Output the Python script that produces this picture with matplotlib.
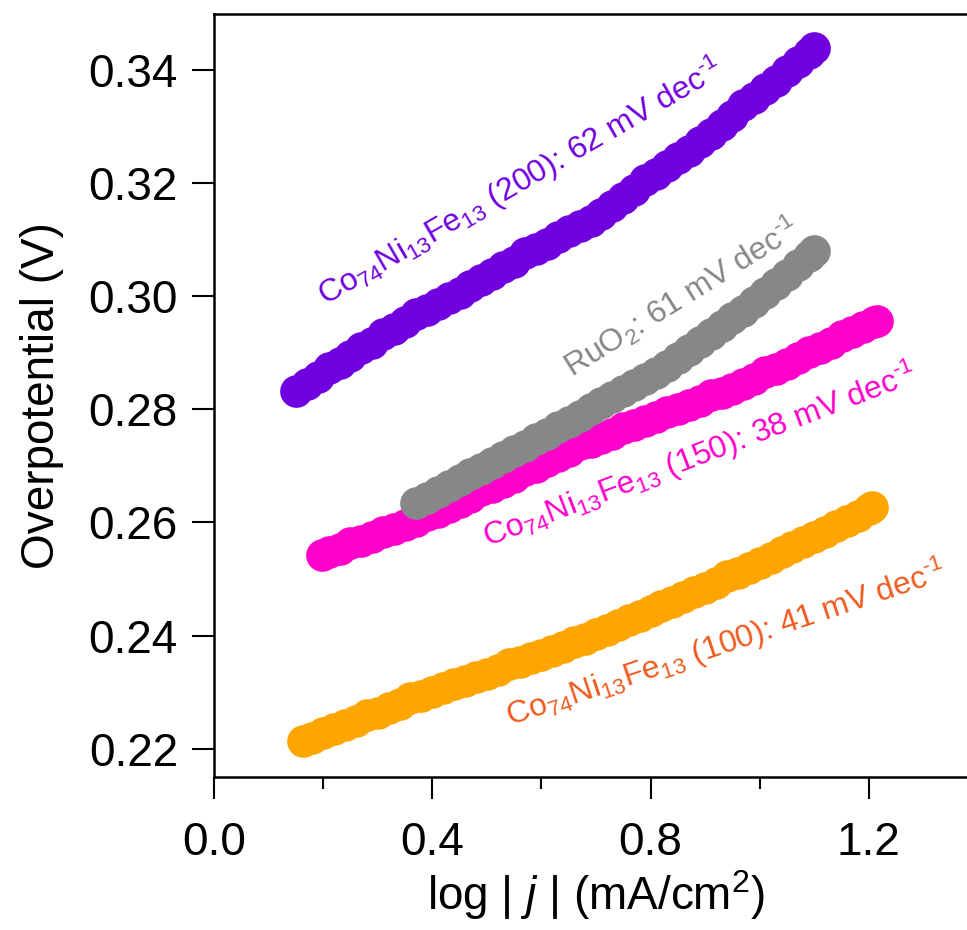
import numpy as np
import matplotlib
matplotlib.use('Agg')
import matplotlib.pyplot as plt
from matplotlib.ticker import MultipleLocator, FormatStrFormatter

plt.rcParams['font.family'] = ['Liberation Sans', 'DejaVu Sans']
plt.rcParams['mathtext.fontset'] = 'custom'
plt.rcParams['mathtext.rm'] = 'Liberation Sans'
plt.rcParams['mathtext.it'] = 'Liberation Sans:italic'

# Tafel data: log|j| (mA/cm2) vs overpotential (V)
x200 = [0.150, 0.17, 0.19, 0.21, 0.23, 0.25, 0.27, 0.29, 0.31, 0.33,
        0.35, 0.37, 0.39, 0.41, 0.43, 0.45, 0.47, 0.49, 0.51, 0.53,
        0.55, 0.57, 0.59, 0.61, 0.63, 0.65, 0.67, 0.69, 0.71, 0.73,
        0.75, 0.77, 0.79, 0.81, 0.83, 0.85, 0.87, 0.89, 0.91, 0.93,
        0.95, 0.97, 0.99, 1.01, 1.03, 1.05, 1.07, 1.09, 1.100]
y200 = [0.2832, 0.2845, 0.2857, 0.2873, 0.2882, 0.2895, 0.2908, 0.2917, 0.2933, 0.2943,
        0.2954, 0.2969, 0.2976, 0.2986, 0.2997, 0.3005, 0.3019, 0.3029, 0.3040, 0.3051,
        0.3061, 0.3076, 0.3083, 0.3093, 0.3104, 0.3115, 0.3125, 0.3133, 0.3146, 0.3160,
        0.3174, 0.3188, 0.3206, 0.3216, 0.3231, 0.3245, 0.3256, 0.3273, 0.3287, 0.3302,
        0.3318, 0.3339, 0.3351, 0.3367, 0.3380, 0.3399, 0.3415, 0.3431, 0.3439]

xruo2 = [0.371, 0.39, 0.41, 0.43, 0.45, 0.47, 0.49, 0.51, 0.53, 0.55,
         0.57, 0.59, 0.61, 0.63, 0.65, 0.67, 0.69, 0.71, 0.73, 0.75,
         0.77, 0.79, 0.81, 0.83, 0.85, 0.87, 0.89, 0.91, 0.93, 0.95,
         0.97, 0.99, 1.01, 1.03, 1.05, 1.07, 1.09, 1.100]
yruo2 = [0.2634, 0.2644, 0.2654, 0.2664, 0.2675, 0.2685, 0.2695, 0.2706, 0.2716, 0.2726,
         0.2736, 0.2747, 0.2757, 0.2768, 0.2778, 0.2789, 0.2800, 0.2811, 0.2822, 0.2832,
         0.2843, 0.2854, 0.2865, 0.2877, 0.2891, 0.2905, 0.2919, 0.2933, 0.2947, 0.2961,
         0.2974, 0.2989, 0.3005, 0.3022, 0.3038, 0.3055, 0.3072, 0.3080]

x150 = [0.197, 0.21, 0.23, 0.25, 0.27, 0.29, 0.31, 0.33, 0.35, 0.37,
        0.39, 0.41, 0.43, 0.45, 0.47, 0.49, 0.51, 0.53, 0.55, 0.57,
        0.59, 0.61, 0.63, 0.65, 0.67, 0.69, 0.71, 0.73, 0.75, 0.77,
        0.79, 0.81, 0.83, 0.85, 0.87, 0.89, 0.91, 0.93, 0.95, 0.97,
        0.99, 1.01, 1.03, 1.05, 1.07, 1.09, 1.11, 1.13, 1.15, 1.17,
        1.19, 1.21, 1.215]
y150 = [0.2542, 0.2547, 0.2554, 0.2563, 0.2568, 0.2575, 0.2584, 0.2589, 0.2596, 0.2603,
        0.2613, 0.2618, 0.2627, 0.2636, 0.2645, 0.2657, 0.2663, 0.2672, 0.2681, 0.2693,
        0.2699, 0.2708, 0.2717, 0.2726, 0.2738, 0.2743, 0.2750, 0.2757, 0.2767, 0.2772,
        0.2779, 0.2786, 0.2796, 0.2800, 0.2807, 0.2814, 0.2825, 0.2829, 0.2836, 0.2845,
        0.2854, 0.2866, 0.2872, 0.2881, 0.2890, 0.2902, 0.2908, 0.2917, 0.2929, 0.2936,
        0.2945, 0.2955, 0.2957]

x100 = [0.163, 0.18, 0.20, 0.22, 0.24, 0.26, 0.28, 0.30, 0.32, 0.34,
        0.36, 0.38, 0.40, 0.42, 0.44, 0.46, 0.48, 0.50, 0.52, 0.54,
        0.56, 0.58, 0.60, 0.62, 0.64, 0.66, 0.68, 0.70, 0.72, 0.74,
        0.76, 0.78, 0.80, 0.82, 0.84, 0.86, 0.88, 0.90, 0.92, 0.94,
        0.96, 0.98, 1.00, 1.02, 1.04, 1.06, 1.08, 1.10, 1.12, 1.14,
        1.16, 1.18, 1.20, 1.206]
y100 = [0.2213, 0.2219, 0.2227, 0.2234, 0.2242, 0.2249, 0.2259, 0.2264, 0.2272, 0.2279,
        0.2290, 0.2294, 0.2301, 0.2307, 0.2314, 0.2320, 0.2327, 0.2333, 0.2340, 0.2350,
        0.2353, 0.2360, 0.2366, 0.2373, 0.2379, 0.2389, 0.2394, 0.2402, 0.2410, 0.2418,
        0.2427, 0.2435, 0.2443, 0.2452, 0.2460, 0.2468, 0.2477, 0.2485, 0.2493, 0.2505,
        0.2510, 0.2520, 0.2529, 0.2538, 0.2547, 0.2557, 0.2566, 0.2575, 0.2584, 0.2593,
        0.2603, 0.2612, 0.2624, 0.2627]

c200 = '#7000E0'
cruo2 = '#878787'
c150 = '#FF00CC'
c100 = '#FFA500'
c100_txt = '#F25A1E'

fig = plt.figure(figsize=(9.67, 9.30), dpi=100)
ax = fig.add_axes([214/967, 1-777/930, (978-214)/967, (777-13.5)/930])

ms = 23.5
ax.plot(x100, y100, 'o', ms=ms, color=c100, mec='none')
ax.plot(x150, y150, 'o', ms=ms, color=c150, mec='none')
ax.plot(xruo2, yruo2, 'o', ms=ms, color=cruo2, mec='none')
ax.plot(x200, y200, 'o', ms=ms, color=c200, mec='none')

fs = 23
lab = r'Co$_{\mathrm{74}}$Ni$_{\mathrm{13}}$Fe$_{\mathrm{13}}$'
sup = r' mV dec$^{\text{-1}}$'
ax.text(0.204, 0.2983, lab + ' (200): 62' + sup, color=c200, fontsize=fs,
        rotation=30, rotation_mode='anchor', ha='left', va='baseline')
ax.text(0.656, 0.2856, r'RuO$_{\mathrm{2}}$: 61' + sup, color=cruo2, fontsize=fs,
        rotation=32, rotation_mode='anchor', ha='left', va='baseline')
ax.text(0.501, 0.2556, lab + ' (150): 38' + sup, color=c150, fontsize=fs,
        rotation=21, rotation_mode='anchor', ha='left', va='baseline')
ax.text(0.543, 0.2239, lab + ' (100): 41' + sup, color=c100_txt, fontsize=fs,
        rotation=18.5, rotation_mode='anchor', ha='left', va='baseline')

ax.set_xlim(0, 1.4)
ax.set_ylim(0.215, 0.35)
ax.xaxis.set_major_locator(MultipleLocator(0.4))
ax.xaxis.set_minor_locator(MultipleLocator(0.2))
ax.xaxis.set_major_formatter(FormatStrFormatter('%.1f'))
ax.yaxis.set_major_locator(MultipleLocator(0.02))
ax.yaxis.set_major_formatter(FormatStrFormatter('%.2f'))

ax.spines['right'].set_visible(False)
for s in ['left', 'bottom', 'top']:
    ax.spines[s].set_linewidth(1.8)
ax.tick_params(axis='both', which='major', direction='out', length=16, width=1.5,
               labelsize=33, top=False, right=False)
ax.tick_params(axis='x', which='minor', direction='out', length=8.5, width=1.5, top=False)
ax.tick_params(axis='x', which='major', pad=16)
ax.tick_params(axis='y', which='major', pad=10)

ax.set_ylabel('Overpotential (V)', fontsize=33, labelpad=18)
ax.set_xlabel(r'log | $j$ | (mA/cm$^{\mathrm{2}}$)', fontsize=33, labelpad=2)

fig.savefig('out.png', dpi=100)
